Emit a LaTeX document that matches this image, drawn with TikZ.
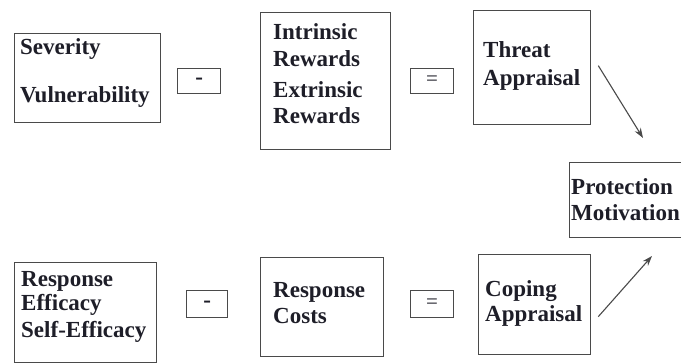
\documentclass[tikz,border=0pt]{standalone}
\usepackage{fontspec}
\setmainfont{Liberation Serif}
\usetikzlibrary{arrows.meta}
\definecolor{boxgray}{HTML}{4A4A4A}
\definecolor{txtcol}{HTML}{1E1E28}
\begin{document}
\begin{tikzpicture}[x=1pt,y=-1pt,
  box/.style={draw=boxgray, line width=1.3pt, rectangle, inner sep=0pt, anchor=north west},
  txt/.style={anchor=base west, inner sep=0pt, text=txtcol, font=\fontsize{23}{27}\selectfont\bfseries},
  opsign/.style={inner sep=0pt, text=txtcol},
  arr/.style={draw=boxgray, line width=1.1pt, -{Stealth[length=10pt,width=7pt]}}]
\useasboundingbox (0,0) rectangle (681,363);
\fill[white] (0,0) rectangle (681,363);
% top row boxes
\node[box, minimum width=146pt, minimum height=89pt] (sev) at (14,33) {};
\node[box, minimum width=43pt, minimum height=25pt] (minusA) at (177,68) {};
\node[box, minimum width=130pt, minimum height=137pt] (rew) at (260,12) {};
\node[box, minimum width=43pt, minimum height=25pt] (eqA) at (410,68) {};
\node[box, minimum width=117pt, minimum height=114pt] (threat) at (473,10) {};
\node[box, minimum width=130pt, minimum height=75pt] (prot) at (569,162) {};
% bottom row boxes
\node[box, minimum width=142pt, minimum height=100pt] (eff) at (14,262) {};
\node[box, minimum width=41pt, minimum height=27pt] (minusB) at (186,290) {};
\node[box, minimum width=123pt, minimum height=99pt] (cost) at (260,257) {};
\node[box, minimum width=43pt, minimum height=27pt] (eqB) at (410,290) {};
\node[box, minimum width=112pt, minimum height=100pt] (coping) at (478,254) {};
% texts
\node[txt] (tSev) at (20,55) {Severity};
\node[txt] (tVul) at (20,103) {Vulnerability};
\node[txt] (tInt) at (273,40) {Intrinsic};
\node[txt] (tRw1) at (273,67) {Rewards};
\node[txt] (tExt) at (273,98) {Extrinsic};
\node[txt] (tRw2) at (273,124) {Rewards};
\node[txt] (tThr) at (483,58) {Threat};
\node[txt] (tApp1) at (483,86) {Appraisal};
\node[txt] (tPro) at (571,195) {Protection};
\node[txt] (tMot) at (571,221) {Motivation};
\node[txt] (tRes) at (21,287) {Response};
\node[txt] (tEff) at (21,311) {Efficacy};
\node[txt] (tSelf) at (21,338) {Self-Efficacy};
\node[txt] (tRc) at (273,298) {Response};
\node[txt] (tCo) at (273,324) {Costs};
\node[txt] (tCop) at (485,297) {Coping};
\node[txt] (tApp2) at (485,322) {Appraisal};
% operator signs
\node[opsign, font=\fontsize{23}{27}\selectfont\bfseries] (sMinA) at (minusA.center) {-};
\node[opsign, font=\fontsize{21}{25}\selectfont] (sEqA) at (eqA.center) {=};
\node[opsign, font=\fontsize{23}{27}\selectfont\bfseries] (sMinB) at (minusB.center) {-};
\node[opsign, font=\fontsize{21}{25}\selectfont] (sEqB) at (eqB.center) {=};
% arrows
\coordinate (tipA) at (643,138);
\coordinate (tipB) at (652,256);
\draw[arr] (threat.east) ++(7,-2) -- (tipA);
\draw[arr] (coping.east) ++(7,12) -- (tipB);
\end{tikzpicture}
\end{document}
